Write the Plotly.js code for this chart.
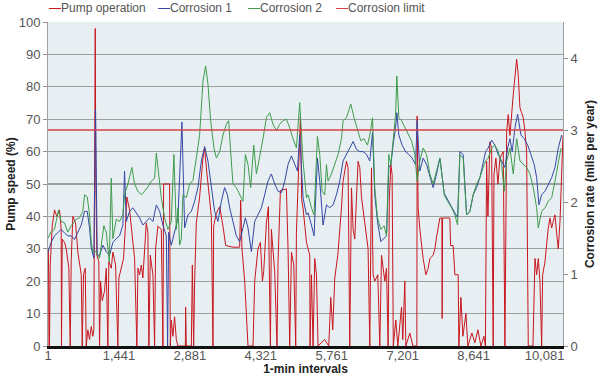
<!DOCTYPE html>
<html>
<head>
<meta charset="utf-8">
<script src="https://cdn.plot.ly/plotly-3.0.1.min.js"></script>
<style>
html,body{margin:0;padding:0;background:#fff;}
#chart{width:600px;height:376px;}
</style>
</head>
<body>
<div id="chart"></div>
<script>
// ---- Data ----
const xTickVals = [1, 1441, 2881, 4321, 5761, 7201, 8641, 10081];
const xTickText = ['1', '1,441', '2,881', '4,321', '5,761', '7,201', '8,641', '10,081'];

// Pump operation (%), left axis
const pumpX = [1,5,17,31,46,86,133,180,235,269,275,290,336,371,424,452,472,505,560,607,641,676,696,722,757,777,810,844,879,911,932,946,960,972,993,1033,1047,1068,1102,1149,1184,1216,1236,1285,1318,1373,1419,1440,1488,1535,1576,1602,1657,1712,1759,1805,1826,1860,1895,1927,1962,1996,2029,2049,2078,2131,2165,2185,2232,2301,2334,2348,2470,2484,2504,2537,2571,2606,2639,2789,2795,2809,2911,2931,2958,2978,3012,3079,3147,3181,3216,3248,3283,3317,3350,3364,3419,3486,3553,3608,3756,3892,3913,3939,3994,4061,4163,4197,4264,4313,4354,4380,4435,4475,4516,4536,4603,4650,4671,4719,4841,4874,4908,4943,4990,5030,5044,5097,5126,5152,5179,5248,5315,5321,5349,5382,5416,5451,5483,5619,5701,5741,5782,5823,5884,5959,5991,6060,6093,6127,6162,6195,6229,6264,6296,6331,6365,6432,6467,6499,6534,6568,6601,6635,6696,6737,6772,6839,6873,6906,6930,6961,6987,7011,7062,7103,7178,7204,7245,7265,7347,7408,7489,7495,7515,7550,7617,7672,7719,7753,7820,7855,7889,7956,7997,8003,8011,8159,8174,8227,8261,8328,8342,8383,8424,8485,8525,8607,8667,8728,8789,8850,8881,8905,8932,8972,9007,9039,9054,9094,9135,9175,9243,9277,9312,9344,9379,9446,9480,9515,9547,9582,9616,9649,9683,9718,9751,9846,9887,9921,9954,9988,10023,10043,10090,10124,10157,10191,10226,10259,10293,10328,10360,10395,10429,10456];
const pumpY = [0,30,22,0,25,37,42,40,42,36,0,33,32,30,24,0,26,40,38,29,25,22,0,22,24,0,5,2,6,3,5,50,98,50,28,26,0,20,14,17,24,0,26,24,29,25,0,21,24,27,38,46,42,34,27,0,24,22,25,21,30,38,35,0,28,22,0,30,37,36,0,50,50,0,8,3,9,2,0,0,12,0,0,25,0,20,38,46,58,61,55,50,46,40,0,37,41,43,37,31,30.5,30.5,45,30,20,0,0,20,30,32,20,23,38,43,0,36,23,0,26,48,48.5,30,0,29,25,0,35,55,71,45,42.6,32,28,0,22,0,27,22,0,2,0,15,5,21,28,42.6,50.8,57,55,0,48.8,36,33,46,57,55,46,38,34,30,0,55,22,20,22,0,28,20,24,0,45,56,53,0,8,0,12,2,20,0,4,0,0,71,42.6,36,27,22,24,27,28,30,33.6,39.5,39.5,8.5,39.5,39.5,31,31,22,22,0,15,3,10,0,4,1,5,0,3,0,57,40,63,61,0,52.8,58,50,58,60,0,66,71.4,65,77.6,83.8,88.5,83.8,73.5,72,70.4,66.3,60,0,0,27,22,27,20,0,22,26,32,36.4,39.5,36.4,38.5,40.5,34.6,30,38.5,50.8,65];

// Corrosion 1 (mils per year), right axis
const corr1X = [1,66,133,200,269,336,403,472,539,607,676,743,798,844,879,932,966,1001,1047,1115,1184,1251,1318,1387,1454,1521,1555,1590,1657,1724,1793,1860,1927,1996,2063,2131,2200,2267,2334,2403,2429,2450,2504,2606,2639,2720,2775,2842,2911,2978,3045,3114,3181,3248,3317,3384,3451,3520,3587,3642,3689,3756,3825,3892,3959,4008,4061,4130,4197,4264,4333,4400,4467,4536,4603,4671,4740,4807,4874,4943,5010,5065,5111,5179,5248,5280,5349,5402,5471,5518,5585,5654,5721,5788,5857,5924,5991,6060,6127,6195,6264,6331,6398,6467,6534,6589,6635,6690,6757,6825,6873,6920,6961,7007,7056,7083,7123,7190,7259,7326,7393,7463,7495,7550,7617,7686,7753,7820,7889,7956,8044,8194,8316,8363,8430,8499,8566,8633,8702,8769,8836,8885,8938,9007,9074,9141,9210,9277,9332,9379,9425,9480,9535,9602,9669,9738,9805,9872,9921,9968,10023,10090,10157,10226,10293,10360,10429];
const corr1Y = [1.31,1.44,1.53,1.58,1.62,1.57,1.53,1.53,1.48,1.58,1.68,1.87,1.87,1.64,1.36,1.22,3.29,1.26,1.26,1.40,1.31,1.26,1.44,1.49,1.53,1.68,2.43,1.73,1.87,1.92,1.85,1.78,1.68,1.73,1.78,1.73,1.96,1.87,1.68,1.53,0,1.58,1.40,1.68,1.78,3.11,1.64,1.82,1.87,2.01,2.20,2.57,2.77,2.57,2.20,1.87,1.73,2.01,2.20,2.10,1.92,1.73,1.53,1.45,1.64,1.78,1.64,1.31,1.73,1.82,1.92,2.10,2.29,2.39,2.25,2.15,2.13,2.29,2.52,2.64,2.52,2.43,2.93,2.06,1.82,1.85,1.68,1.53,2.61,2.29,1.68,1.96,1.92,1.96,2.10,2.29,2.57,2.66,2.75,2.84,2.73,2.70,2.70,2.66,2.57,2.97,2.10,1.73,1.45,1.49,1.53,2.48,2.52,2.79,3.03,3.24,2.93,2.79,2.70,2.66,2.61,2.52,3.13,2.43,2.61,2.52,2.34,2.20,2.39,2.61,2.12,1.92,1.78,2.70,2.66,1.82,1.87,2.10,2.20,2.34,2.57,2.70,2.75,2.86,2.79,2.66,2.57,2.48,2.75,2.88,2.70,3.03,3.22,2.93,2.88,2.79,2.66,2.52,2.34,1.96,2.10,2.15,2.24,2.34,2.48,2.75,2.93];

// Corrosion 2 (mils per year), right axis
const corr2X = [1,66,133,214,269,336,403,472,574,641,708,743,798,844,879,911,980,1047,1135,1184,1245,1285,1318,1387,1454,1521,1555,1623,1704,1759,1826,1895,1962,2029,2098,2165,2200,2232,2301,2368,2435,2504,2557,2606,2639,2673,2708,2740,2809,2876,2943,3012,3079,3147,3201,3248,3303,3370,3419,3486,3553,3622,3669,3709,3756,3825,3892,3959,4008,4061,4116,4177,4232,4299,4366,4435,4502,4569,4638,4705,4772,4841,4908,4975,5044,5111,5179,5248,5280,5349,5402,5471,5518,5565,5619,5654,5687,5756,5823,5890,5959,5991,6060,6148,6215,6284,6351,6418,6487,6534,6589,6635,6690,6757,6825,6873,6920,6961,7007,7056,7083,7123,7178,7245,7312,7381,7448,7495,7550,7617,7686,7753,7820,7889,7956,7991,8044,8113,8194,8261,8316,8363,8430,8464,8499,8566,8633,8702,8769,8836,8885,8938,9007,9074,9141,9210,9263,9312,9379,9446,9515,9582,9649,9718,9785,9852,9921,9954,10023,10090,10157,10226,10293,10360,10415];
const corr2Y = [1.50,1.59,1.62,1.89,1.73,1.71,1.58,1.67,1.76,1.78,1.87,2.10,2.07,1.82,1.44,1.31,1.31,1.22,1.67,1.58,1.17,2.33,1.49,1.76,1.73,1.82,2.10,2.25,2.48,2.25,2.15,2.10,2.15,2.21,2.29,2.33,2.68,2.48,2.06,1.78,1.62,1.73,2.66,1.62,1.92,1.40,1.49,2.10,2.06,2.25,2.30,2.61,2.93,3.68,3.89,3.64,3.13,2.75,2.61,2.70,2.93,3.08,3.13,2.70,2.25,2.20,2.10,2.01,2.66,2.52,2.20,2.79,2.39,2.61,2.88,3.17,3.24,3.08,2.99,3.08,3.13,3.15,3.03,2.88,2.75,3.38,2.57,2.06,2.10,1.92,1.82,2.91,2.66,2.15,2.10,2.52,2.29,2.39,2.52,2.66,2.88,3.13,3.17,3.36,3.17,2.99,2.85,2.88,2.79,2.93,3.17,2.20,1.78,1.62,1.67,1.53,2.66,2.52,2.84,3.20,3.75,3.17,3.13,3.03,2.93,2.85,2.66,2.29,2.57,2.75,2.66,2.39,2.25,2.43,2.61,2.43,2.10,2.01,1.92,1.82,1.68,2.66,2.61,2.20,1.82,1.87,2.10,2.25,2.34,2.48,2.57,2.61,2.75,2.79,2.70,2.52,2.15,2.57,2.75,2.39,2.88,2.57,2.52,2.48,2.39,2.20,1.92,1.64,1.87,1.92,2.01,2.06,2.29,2.52,2.75];

// Corrosion limit (mils per year)
const limitX = [1, 10456];
const limitY = [3, 3];

// Series names and colours (legend)
const seriesNames = ['Pump operation', 'Corrosion 1', 'Corrosion 2', 'Corrosion limit'];
const seriesColors = ['#c8161d', '#3447a6', '#3e9c4c', '#d9404a'];

// ---- Chart ----
const FONT = "'Liberation Sans', Arial, sans-serif";

const traces = [
  {x: pumpX, y: pumpY, name: seriesNames[0], type: 'scatter', mode: 'lines',
   line: {color: seriesColors[0], width: 1}, yaxis: 'y'},
  {x: corr1X, y: corr1Y, name: seriesNames[1], type: 'scatter', mode: 'lines',
   line: {color: seriesColors[1], width: 1}, yaxis: 'y2'},
  {x: corr2X, y: corr2Y, name: seriesNames[2], type: 'scatter', mode: 'lines',
   line: {color: seriesColors[2], width: 1}, yaxis: 'y2'},
  {x: limitX, y: limitY, name: seriesNames[3], type: 'scatter', mode: 'lines',
   line: {color: seriesColors[3], width: 1.5}, yaxis: 'y2'}
];

// legend drawn as a row of text items above the plot, like the original
const legendX = [0, 0.2117, 0.3864, 0.5573];
const legendAnn = seriesNames.map((n, i) => ({
  xref: 'paper', yref: 'paper', x: legendX[i], y: 1.043,
  xanchor: 'left', yanchor: 'middle', showarrow: false, borderpad: 0,
  text: '<span style="color:' + seriesColors[i] + '">—</span>' + n,
  font: {family: FONT, size: 12, color: '#555555'}
}));

const layout = {
  width: 600, height: 376,
  margin: {l: 48, r: 37, t: 22, b: 30},
  paper_bgcolor: '#ffffff',
  plot_bgcolor: '#e8eff3',
  font: {family: FONT, size: 13, color: '#555555'},
  showlegend: false,
  annotations: legendAnn,
  xaxis: {
    range: [1, 10456], tickmode: 'array', tickvals: xTickVals, ticktext: xTickText,
    showgrid: false, zeroline: false, showline: true, linecolor: '#111111', linewidth: 2.5,
    ticks: '', ticklabelstandoff: -4, tickfont: {family: FONT, size: 13, color: '#555555'},
    title: {text: '1-min intervals', font: {family: FONT, size: 12, color: '#222222', weight: 'bold'}, standoff: 0},
    automargin: false
  },
  yaxis: {
    range: [0, 100], dtick: 10, tick0: 0,
    showgrid: true, gridcolor: '#a0a0a0', gridwidth: 1.2, zeroline: false,
    showline: true, linecolor: '#a0a0a0', linewidth: 1,
    ticks: 'outside', ticklen: 4, tickcolor: '#909090',
    tickfont: {family: FONT, size: 13, color: '#555555'},
    title: {text: 'Pump speed (%)', font: {family: FONT, size: 12, color: '#222222', weight: 'bold'}, standoff: 0},
    automargin: false
  },
  yaxis2: {
    range: [0, 4.5], dtick: 1, tick0: 0, overlaying: 'y', side: 'right',
    showgrid: false, zeroline: false, showline: true, linecolor: '#a0a0a0', linewidth: 1,
    ticks: 'outside', ticklen: 4, tickcolor: '#909090',
    tickfont: {family: FONT, size: 13, color: '#555555'},
    title: {text: 'Corrosion rate (mils per year)', font: {family: FONT, size: 12, color: '#222222', weight: 'bold'}, standoff: 8},
    automargin: false
  }
};

Plotly.newPlot('chart', traces, layout, {displayModeBar: false, staticPlot: true});
</script>
</body>
</html>
